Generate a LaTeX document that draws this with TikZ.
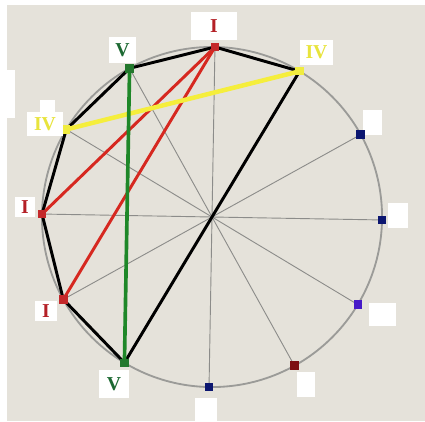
\documentclass[tikz,border=0pt]{standalone}
\usepackage{fontspec}
\setmainfont{Liberation Serif}
\usetikzlibrary{backgrounds}
\definecolor{paper}{RGB}{229,226,218}
\definecolor{rimGray}{RGB}{155,155,152}
\definecolor{spokeGray}{RGB}{140,140,138}
\definecolor{chI}{RGB}{214,40,32}
\definecolor{chV}{RGB}{30,135,40}
\definecolor{chIV}{RGB}{245,238,60}
\definecolor{labI}{RGB}{180,32,38}
\definecolor{labV}{RGB}{28,105,50}
\definecolor{labIV}{RGB}{232,228,60}
\definecolor{dotI}{RGB}{196,40,42}
\definecolor{dotV}{RGB}{35,120,45}
\definecolor{dotIV}{RGB}{240,236,64}
\definecolor{dotNavy}{RGB}{12,22,112}
\definecolor{dotViolet}{RGB}{70,26,200}
\definecolor{dotMaroon}{RGB}{125,15,18}

\begin{document}
\begin{tikzpicture}[
  x=0.025cm, y=0.025cm,
  dot/.style={rectangle, inner sep=0pt, minimum size=2.1mm},
  lab/.style={fill=white, inner sep=0pt, font=\fontsize{14}{14}\selectfont\bfseries},
  spoke/.style={draw=spokeGray, line width=0.65pt},
  chord/.style={line width=2.1pt, line cap=round, line join=round}
]
  \useasboundingbox (-212,-204) rectangle (213,217);
  \node[dot,fill=dotI] (iTop) at (89:170) {};
  \node[dot,fill=dotV] (vTop) at (119:170) {};
  \node[dot,fill=dotIV] (ivLeft) at (149:170) {};
  \node[dot,fill=dotI] (iLeft) at (179:170) {};
  \node[dot,fill=dotI] (iLow) at (209:170) {};
  \node[dot,fill=dotV] (vLow) at (239:170) {};
  \node[dot,fill=dotNavy] (navyLow) at (269:170) {};
  \node[dot,fill=dotMaroon] (maroon) at (299:170) {};
  \node[dot,fill=dotViolet] (violet) at (329:170) {};
  \node[dot,fill=dotNavy] (navyRight) at (359:170) {};
  \node[dot,fill=dotNavy] (navyUp) at (29:170) {};
  \node[dot,fill=dotIV] (ivRight) at (59:170) {};
  \node[lab,text=labI,minimum width=11.5mm,minimum height=7mm] (iTopLab) at (2,191) {I};
  \node[lab,text=labV,minimum width=6.5mm,minimum height=6.5mm] (vTopLab) at (-89.5,167) {V};
  \node[lab,text=labIV,minimum width=8.4mm,minimum height=6.2mm] (ivRightLab) at (104.5,164.5) {IV};
  \node[lab,text=labIV,minimum width=9.2mm,minimum height=5.8mm] (ivLeftLab) at (-167,93) {IV};
  \node[lab,text=labI,minimum width=5mm,minimum height=5mm] (iLeftLab) at (-187,10) {I};
  \node[lab,text=labI,minimum width=5.5mm,minimum height=5mm] (iLowLab) at (-166,-94) {I};
  \node[lab,text=labV,minimum width=7.5mm,minimum height=6.8mm] (vLowLab) at (-98,-167) {V};
  \begin{scope}[on background layer]
    \fill[paper] (-205,-204) rectangle (213,212);
    \fill[white] (-212,99) rectangle (-197,147);
    \fill[white] (-172,105) rectangle (-157,117);
    \fill[white] (151,82) rectangle (170,107);
    \fill[white] (176,-11) rectangle (196,14);
    \fill[white] (157,-109) rectangle (184,-86);
    \fill[white] (85,-180) rectangle (103,-155);
    \fill[white] (-17,-204) rectangle (5,-181);
    \draw[rimGray, line width=1.3pt] (0,0) circle[radius=4.25cm];
    \draw[spoke] (iTop.center) -- (navyLow.center);
    \draw[spoke] (vTop.center) -- (maroon.center);
    \draw[spoke] (ivLeft.center) -- (violet.center);
    \draw[spoke] (iLeft.center) -- (navyRight.center);
    \draw[spoke] (iLow.center) -- (navyUp.center);
    \draw[chord, black] (iTop.center) -- (ivRight.center) -- (vLow.center) -- (iLow.center) -- (iLeft.center) -- (ivLeft.center) -- (vTop.center) -- cycle;
    \draw[chord, chI] (iTop.center) -- (iLeft.center);
    \draw[chord, chI] (iTop.center) -- (iLow.center);
    \draw[chord, chIV, line width=3.2pt] (ivLeft.center) -- (ivRight.center);
    \draw[chord, chV, line width=2.6pt] (vTop.center) -- (vLow.center);
  \end{scope}
\end{tikzpicture}
\end{document}
